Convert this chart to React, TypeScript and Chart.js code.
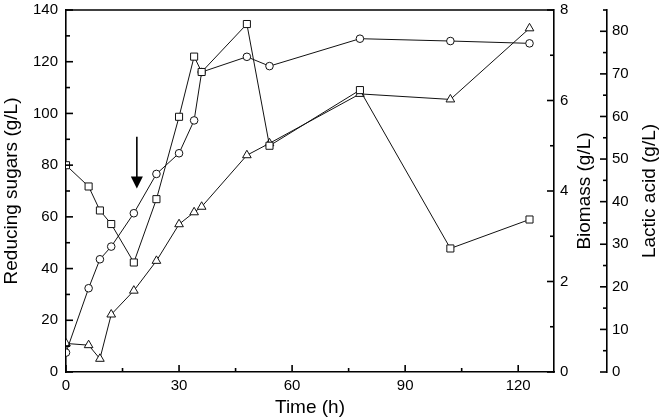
import React, { useEffect, useRef } from "react";
import { Chart, registerables } from "chart.js";

Chart.register(...registerables);

// ---- Data ----
const timeH = [0, 6, 9, 12, 18, 24, 30, 34, 36, 48, 54, 78, 102, 123];
const reducingSugars = [7.5, 32.4, 43.6, 48.5, 61.4, 76.6, 84.6, 97.3, 116.0, 121.9, 118.3, 128.9, 128.0, 127.1];
const biomass = [4.57, 4.1, 3.57, 3.27, 2.42, 3.82, 5.64, 6.97, 6.63, 7.69, 5.0, 6.23, 2.73, 3.37];
const lacticAcid = [6.7, 6.3, 3.1, 13.5, 19.1, 26.1, 34.7, 37.5, 38.8, 50.9, 53.7, 65.3, 64.0, 80.7];

const xTicks = [0, 30, 60, 90, 120];
const sugarTicks = [0, 20, 40, 60, 80, 100, 120, 140];
const biomassTicks = [0, 2, 4, 6, 8];
const lacticTicks = [0, 10, 20, 30, 40, 50, 60, 70, 80];

// feeding arrow (time, reducing-sugar units)
const arrowTime = 18.8;
const arrowTop = 91;
const arrowTip = 71;

const FONT = "'Liberation Sans', Arial, Helvetica, sans-serif";

const decorPlugin = {
  id: "decor",
  afterDraw(chart: any) {
    const ctx = chart.ctx as CanvasRenderingContext2D;
    const { x, ySugar, yBio, yLac } = chart.scales;
    const ca = chart.chartArea;
    ctx.save();
    ctx.strokeStyle = "#000";
    ctx.fillStyle = "#000";
    ctx.lineWidth = 1.6;
    ctx.beginPath();
    ctx.moveTo(ca.left, ca.top);
    ctx.lineTo(ca.right, ca.top);
    ctx.stroke();
    const MAJ = 7, MIN = 4;
    for (let v = 0; v <= 127; v += 15) {
      const px = x.getPixelForValue(v);
      const len = v % 30 === 0 ? MAJ : MIN;
      ctx.beginPath();
      ctx.moveTo(px, ca.bottom);
      ctx.lineTo(px, ca.bottom - len);
      ctx.stroke();
    }
    for (let v = 0; v <= 140; v += 10) {
      const py = ySugar.getPixelForValue(v);
      const len = v % 20 === 0 ? MAJ : MIN;
      ctx.beginPath();
      ctx.moveTo(ca.left, py);
      ctx.lineTo(ca.left + len, py);
      ctx.stroke();
    }
    for (let v = 0; v <= 8; v += 1) {
      const py = yBio.getPixelForValue(v);
      const len = v % 2 === 0 ? MAJ : MIN;
      ctx.beginPath();
      ctx.moveTo(yBio.left, py);
      ctx.lineTo(yBio.left - len, py);
      ctx.stroke();
    }
    for (let v = 0; v <= 85; v += 5) {
      const py = yLac.getPixelForValue(v);
      const len = v % 10 === 0 ? MAJ : MIN;
      ctx.beginPath();
      ctx.moveTo(yLac.left, py);
      ctx.lineTo(yLac.left - len, py);
      ctx.stroke();
    }
    const cy = (ca.top + ca.bottom) / 2;
    ctx.font = `19px ${FONT}`;
    ctx.textAlign = "center";
    ctx.textBaseline = "middle";
    const drawV = (text: string, cx: number) => {
      ctx.save();
      ctx.translate(cx, cy);
      ctx.rotate(-Math.PI / 2);
      ctx.fillText(text, 0, 0);
      ctx.restore();
    };
    drawV("Biomass (g/L)", yBio.left + 31);
    drawV("Lactic acid (g/L)", yLac.left + 43);
    const ax = x.getPixelForValue(arrowTime);
    const ay0 = ySugar.getPixelForValue(arrowTop);
    const ay1 = ySugar.getPixelForValue(arrowTip);
    ctx.lineWidth = 1.6;
    ctx.beginPath();
    ctx.moveTo(ax, ay0);
    ctx.lineTo(ax, ay1 - 10);
    ctx.stroke();
    ctx.beginPath();
    ctx.moveTo(ax - 6, ay1 - 12);
    ctx.lineTo(ax + 6, ay1 - 12);
    ctx.lineTo(ax, ay1);
    ctx.closePath();
    ctx.fill();
    ctx.restore();
  },
};

const fitY = (w: number) => (s: any) => {
  s.width = w;
  s.paddingTop = 0;
  s.paddingBottom = 0;
};

export default function App() {
  const ref = useRef<HTMLCanvasElement>(null);
  useEffect(() => {
    document.body.style.margin = "0";
    const mk = (data: number[]) => timeH.map((t, i) => ({ x: t, y: data[i] }));
    const common = {
      borderColor: "#111",
      borderWidth: 1,
      pointBackgroundColor: "#fff",
      pointBorderColor: "#111",
      pointBorderWidth: 1,
      showLine: true,
      tension: 0,
    };
    const tickFont = { size: 15, family: FONT };
    const chart = new Chart(ref.current as HTMLCanvasElement, {
      type: "scatter",
      data: {
        datasets: [
          { ...common, label: "Biomass", data: mk(biomass), yAxisID: "yBio", pointStyle: "rect", pointRadius: 5 },
          { ...common, label: "Reducing sugars", data: mk(reducingSugars), yAxisID: "ySugar", pointStyle: "circle", pointRadius: 3.8 },
          { ...common, label: "Lactic acid", data: mk(lacticAcid), yAxisID: "yLac", pointStyle: "triangle", pointRadius: 5 },
        ],
      },
      options: {
        responsive: false,
        animation: false,
        devicePixelRatio: 1,
        layout: { padding: { top: 10, left: 0, right: 0, bottom: 0 } },
        plugins: { legend: { display: false }, tooltip: { enabled: false } },
        scales: {
          x: {
            type: "linear",
            min: 0,
            max: 129.5,
            afterFit: (s: any) => { s.height = 48; s.paddingLeft = 0; s.paddingRight = 0; },
            afterBuildTicks: (s: any) => { s.ticks = xTicks.map((v) => ({ value: v })); },
            grid: { display: false, drawTicks: false },
            border: { display: true, color: "#000", width: 1.6 },
            ticks: { color: "#000", font: tickFont, padding: 5, includeBounds: false, maxRotation: 0 },
            title: { display: true, text: "Time (h)", color: "#000", font: { size: 19, family: FONT }, padding: { top: 0, bottom: 0.5 } },
          },
          ySugar: {
            type: "linear",
            position: "left",
            min: 0,
            max: 140,
            afterFit: fitY(66),
            afterBuildTicks: (s: any) => { s.ticks = sugarTicks.map((v) => ({ value: v })); },
            grid: { display: false, drawTicks: false },
            border: { display: true, color: "#000", width: 1.6 },
            ticks: { color: "#000", font: tickFont, padding: 8, includeBounds: false },
            title: { display: true, text: "Reducing sugars (g/L)", color: "#000", font: { size: 19, family: FONT }, padding: { top: 0, bottom: 0 } },
          },
          yBio: {
            type: "linear",
            position: "right",
            weight: 1,
            min: 0,
            max: 8,
            afterFit: fitY(53),
            afterBuildTicks: (s: any) => { s.ticks = biomassTicks.map((v) => ({ value: v })); },
            grid: { display: false, drawTicks: false },
            border: { display: true, color: "#000", width: 1.6 },
            ticks: { color: "#000", font: tickFont, padding: 6, includeBounds: false },
          },
          yLac: {
            type: "linear",
            position: "right",
            weight: 2,
            min: 0,
            max: 85,
            afterFit: fitY(54),
            afterBuildTicks: (s: any) => { s.ticks = lacticTicks.map((v) => ({ value: v })); },
            grid: { display: false, drawTicks: false },
            border: { display: true, color: "#000", width: 1.6 },
            ticks: { color: "#000", font: tickFont, padding: 5, includeBounds: false },
          },
        },
      } as any,
      plugins: [decorPlugin],
    });
    return () => chart.destroy();
  }, []);
  return (
    <div style={{ width: 661, height: 420, background: "#fff" }}>
      <canvas ref={ref} width={661} height={420} style={{ display: "block" }} />
    </div>
  );
}
